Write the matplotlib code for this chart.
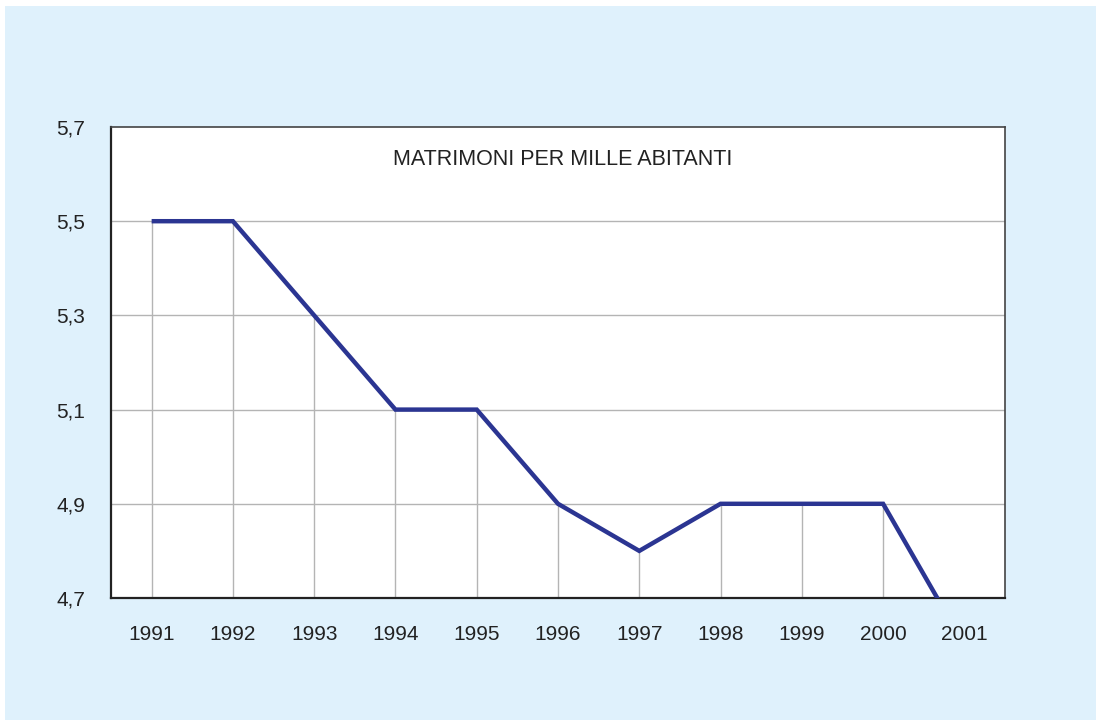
import matplotlib
matplotlib.use('Agg')
import matplotlib.pyplot as plt
from matplotlib.patches import Rectangle

YEARS = ['1991', '1992', '1993', '1994', '1995', '1996',
         '1997', '1998', '1999', '2000', '2001']
MARRIAGES = [5.5, 5.5, 5.3, 5.1, 5.1, 4.9, 4.8, 4.9, 4.9, 4.9, 4.6]
Y_TICKS = [4.7, 4.9, 5.1, 5.3, 5.5, 5.7]
Y_LABELS = ['4,7', '4,9', '5,1', '5,3', '5,5', '5,7']

plt.rcParams['font.family'] = ['Liberation Sans', 'DejaVu Sans']

fig = plt.figure(figsize=(10.96, 7.2), dpi=100)
fig.patch.set_facecolor('white')
fig.patches.append(Rectangle((5 / 1096, 0), 1 - 5 / 1096, 1 - 6 / 720,
                             transform=fig.transFigure, facecolor='#dff1fc',
                             edgecolor='none', zorder=-10))

ax = fig.add_axes([111 / 1096, 122 / 720, 894 / 1096, 471 / 720])
ax.set_facecolor('white')

x = list(range(len(YEARS)))
ax.set_xlim(-0.5, len(YEARS) - 0.5)
ax.set_ylim(4.7, 5.7)

for yv in Y_TICKS[1:-1]:
    ax.axhline(yv, color='#b4b4b4', lw=1.0, zorder=1)

ax.vlines(x, 4.7, MARRIAGES, color='#b4b4b4', lw=1.0, zorder=2)
ax.plot(x, MARRIAGES, color='#2b3592', lw=3.2, solid_capstyle='butt',
        solid_joinstyle='miter', zorder=3)

ax.set_xticks(x)
ax.set_xticklabels(YEARS, fontsize=15, color='#222222')
ax.set_yticks(Y_TICKS)
ax.set_yticklabels(Y_LABELS, fontsize=15, color='#222222')
ax.tick_params(axis='both', length=0)
ax.tick_params(axis='x', pad=19.5)
ax.tick_params(axis='y', pad=18.5)

for side in ['left', 'bottom']:
    ax.spines[side].set_color('#222222')
    ax.spines[side].set_linewidth(1.6)
for side in ['top', 'right']:
    ax.spines[side].set_color('#444444')
    ax.spines[side].set_linewidth(1.2)

ax.text(0.5056, 0.93, 'MATRIMONI PER MILLE ABITANTI', transform=ax.transAxes,
        ha='center', va='center', fontsize=15.5, color='#222222')

plt.savefig('out.png', dpi=100, facecolor=fig.get_facecolor())
